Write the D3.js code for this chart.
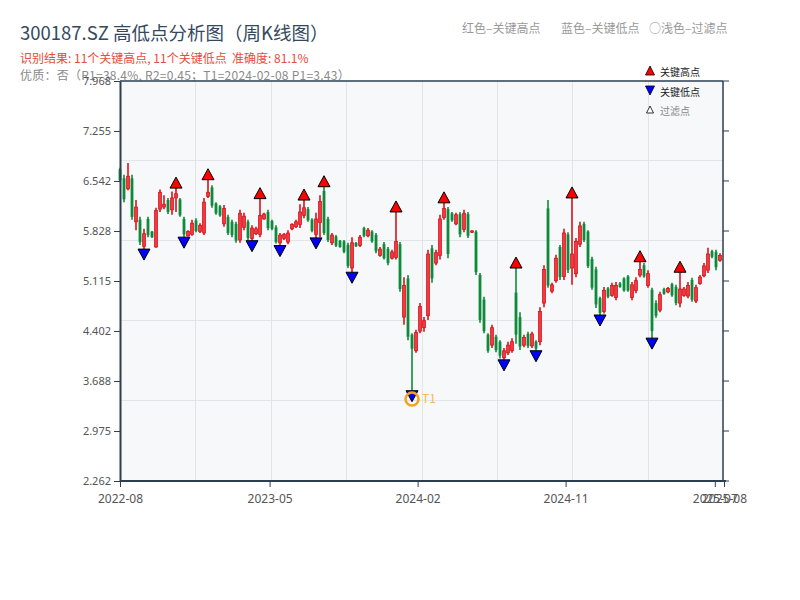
<!DOCTYPE html>
<html><head><meta charset="utf-8">
<script src="https://cdn.jsdelivr.net/npm/d3@7"></script>
<style>body{margin:0;background:#fff;} svg{display:block;font-family:"Noto Sans CJK SC","Noto Sans",sans-serif;} text{white-space:pre;}</style>
</head><body>
<svg id="c" width="800" height="600"></svg>
<script>
// ---- data (weekly candles, index 0..150) ----
const openV = [6.71,6.58,6.43,6.58,5.96,5.99,5.61,6.00,5.82,5.60,
6.14,6.17,6.27,6.13,6.30,6.28,6.00,5.76,5.78,5.98,
5.82,5.80,6.32,6.45,6.22,6.18,5.93,6.03,5.96,5.93,
5.70,5.88,5.96,5.72,5.79,5.78,6.00,6.10,5.97,5.88,
5.66,5.72,5.67,5.86,5.89,5.92,6.05,6.14,5.99,5.78,
5.95,6.40,6.00,5.66,5.75,5.69,5.68,5.63,5.30,5.66,
5.62,5.87,5.76,5.82,5.77,5.48,5.64,5.57,5.44,5.45,
5.64,4.60,5.15,4.35,4.12,4.40,4.45,4.62,5.58,5.37,
5.48,6.02,6.14,6.08,5.93,6.07,5.85,6.07,5.81,5.82,
5.20,4.85,4.35,4.20,4.32,4.25,4.02,4.09,4.12,4.95,
4.60,4.20,4.36,4.19,4.25,4.25,4.80,6.15,4.97,5.12,
5.60,5.18,5.78,5.30,5.22,5.64,5.93,5.82,5.43,5.28,
4.87,4.68,5.01,4.91,4.88,5.08,5.15,5.18,4.88,4.98,
5.20,5.34,5.05,4.99,4.80,4.70,5.00,4.96,5.07,5.03,
4.80,4.91,4.90,5.13,4.83,5.08,5.19,5.27,5.54,5.53,
5.41];
const highV = [6.73,6.63,6.80,6.63,6.27,6.03,5.86,6.03,5.83,6.16,
6.42,6.34,6.30,6.39,6.44,6.30,6.03,5.84,5.99,6.01,
5.94,6.30,6.56,6.48,6.24,6.20,6.20,6.06,5.99,5.96,
6.13,6.09,5.99,5.91,5.89,6.29,6.09,6.13,5.99,5.91,
5.80,5.80,5.84,5.94,5.99,6.21,6.27,6.17,6.01,6.09,
6.34,6.46,6.03,5.80,5.77,5.70,5.70,5.66,5.74,5.67,
5.77,5.89,5.87,5.84,5.80,5.60,5.67,5.60,5.56,6.10,
5.67,5.17,5.20,4.37,4.42,4.80,4.60,5.56,5.63,5.56,
6.06,6.23,6.17,6.10,6.09,6.10,6.13,6.10,5.84,5.84,
5.23,4.89,4.37,4.49,4.35,4.27,4.16,4.25,4.30,5.30,
4.67,4.35,4.39,4.39,4.27,4.74,5.34,6.27,5.09,5.49,
5.63,5.86,5.81,6.30,5.73,5.96,5.96,5.84,5.46,5.32,
4.89,5.03,5.03,5.09,5.10,5.10,5.17,5.20,5.10,5.17,
5.39,5.37,5.27,5.02,4.84,4.96,5.02,5.03,5.09,5.06,
5.24,5.03,5.10,5.16,5.06,5.20,5.37,5.59,5.56,5.56,
5.51];
const lowV = [6.53,6.24,6.41,5.99,5.84,5.63,5.57,5.74,5.73,5.59,
6.10,6.14,6.07,6.06,6.10,6.03,5.74,5.75,5.76,5.81,
5.80,5.77,6.30,6.16,6.06,6.03,5.89,5.77,5.74,5.66,
5.66,5.84,5.70,5.69,5.77,5.74,5.99,5.84,5.84,5.65,
5.62,5.70,5.64,5.84,5.87,5.87,6.01,5.96,5.81,5.73,
5.74,5.77,5.67,5.63,5.60,5.59,5.51,5.30,5.24,5.60,
5.60,5.74,5.74,5.66,5.51,5.46,5.42,5.34,5.42,5.42,
4.96,4.49,4.27,3.55,4.09,4.37,4.39,4.56,5.09,5.34,
5.42,5.99,5.44,5.96,5.91,5.74,5.81,5.73,5.80,5.20,
4.52,4.37,4.09,4.16,4.10,4.01,3.99,4.06,4.09,4.22,
4.13,4.17,4.16,4.16,4.12,4.20,4.74,5.02,4.94,5.09,
5.13,5.13,5.23,5.06,5.17,5.60,5.67,5.30,4.99,4.73,
4.63,4.65,4.87,4.89,4.84,5.02,4.96,4.96,4.84,4.94,
5.17,5.16,5.02,4.30,4.59,4.67,4.92,4.94,4.89,4.77,
4.74,4.89,4.87,4.82,4.80,5.06,5.17,5.23,5.44,5.27,
5.39];
const closeV = [6.55,6.28,6.61,6.03,6.17,5.67,5.79,5.77,5.74,6.12,
6.38,6.21,6.10,6.30,6.36,6.05,5.78,5.82,5.94,5.83,
5.91,6.24,6.38,6.19,6.08,6.05,6.15,5.80,5.77,5.69,
6.08,6.04,5.73,5.87,5.86,6.05,6.07,5.87,5.86,5.67,
5.77,5.78,5.80,5.92,5.96,6.10,6.16,5.98,5.83,6.00,
6.25,5.80,5.70,5.77,5.62,5.60,5.53,5.33,5.66,5.61,
5.74,5.76,5.84,5.68,5.54,5.57,5.44,5.37,5.53,5.68,
5.00,5.05,4.32,4.15,4.38,4.75,4.55,5.50,5.15,5.52,
6.00,6.15,5.50,5.98,6.06,5.78,6.08,5.76,5.83,5.24,
4.56,4.40,4.12,4.45,4.13,4.05,4.12,4.20,4.25,4.35,
4.18,4.31,4.19,4.36,4.15,4.68,5.28,5.05,5.06,5.44,
5.17,5.80,5.27,5.50,5.68,5.90,5.70,5.33,5.02,4.78,
4.66,4.98,4.89,5.05,5.05,5.03,4.98,4.98,5.06,5.12,
5.28,5.18,5.22,4.40,4.62,4.92,4.93,5.01,4.91,4.80,
5.00,5.00,5.05,4.85,5.02,5.17,5.33,5.50,5.46,5.31,
5.48];
const keyHighIdx = [14,22,35,46,51,69,81,99,113,130,140];
const keyLowIdx  = [6,16,33,40,49,58,73,96,104,120,133];
const t1Idx = 73, t1Price = 3.43;
const yTickVals = [2.262,2.975,3.688,4.402,5.115,5.828,6.542,7.255,7.968];
const xTickIdx = [0,37.4,74.4,111.4,148.7,151];
const xTickLabels = ["2022-08","2023-05","2024-02","2024-11","2025-07","2025-08"];

const titleText = "300187.SZ 高低点分析图（周K线图）";
const resultText = "识别结果: 11个关键高点, 11个关键低点  准确度: 81.1%";
const qualityText = "优质：否（R1=38.4%, R2=0.45；T1=2024-02-08 P1=3.43）";

// ---- layout ----
const svg = d3.select("#c");
const L = 120, R = 723, T = 81, B = 481;
const candles = openV.map((o,i)=>({i, o, h:highV[i], l:lowV[i], c:closeV[i]}));

const x = d3.scaleLinear().domain([0,150.75]).range([L,R]);
const y = d3.scaleLinear().domain([2.262,7.968]).range([B,T]);

// texts (behind plot)
svg.append("text").attr("x",20).attr("y",40).attr("font-size",18.5).attr("fill","#34495e").text(titleText);
svg.append("text").attr("x",20).attr("y",63).attr("font-size",12).attr("fill","#e74c3c").text(resultText);
svg.append("text").attr("x",20).attr("y",80).attr("font-size",12).attr("fill","#8a8a8a").attr("letter-spacing",0.25).text(qualityText);
const topLeg = svg.append("g").attr("font-size",12).attr("fill","#999");
topLeg.append("text").attr("x",462).attr("y",33).text("红色–关键高点");
topLeg.append("text").attr("x",561).attr("y",33).text("蓝色–关键低点");
topLeg.append("text").attr("x",649).attr("y",33).text("○浅色–过滤点");

// plot background + grid
svg.append("rect").attr("x",L).attr("y",T).attr("width",R-L).attr("height",B-T).attr("fill","#f6f8fa");
const grid = svg.append("g").attr("stroke","#e1e5ea").attr("stroke-width",1);
d3.range(1,8).forEach(k=>{
  const gx = Math.round(L + (R-L)*k/8)+0.5;
  grid.append("line").attr("x1",gx).attr("x2",gx).attr("y1",T).attr("y2",B);
});
d3.range(1,5).forEach(k=>{
  const gy = Math.round(T + (B-T)*k/5)-0.5;
  grid.append("line").attr("x1",L).attr("x2",R).attr("y1",gy).attr("y2",gy);
});

// candles
const up = "#d9121c", upFill = "#ee3a40", down = "#0f8a3a";
const cg = svg.append("g");
cg.selectAll("line.w").data(candles).join("line")
  .attr("x1",d=>x(d.i)).attr("x2",d=>x(d.i))
  .attr("y1",d=>y(d.h)).attr("y2",d=>y(d.l))
  .attr("stroke",d=>d.c>=d.o?up:down).attr("stroke-width",1.6);
cg.selectAll("rect.b").data(candles).join("rect")
  .attr("x",d=>x(d.i)-1.4).attr("width",2.8)
  .attr("y",d=>y(Math.max(d.o,d.c)))
  .attr("height",d=>Math.max(1,Math.abs(y(d.o)-y(d.c))))
  .attr("fill",d=>d.c>=d.o?upFill:down)
  .attr("stroke",d=>d.c>=d.o?up:"none").attr("stroke-width",0.8);

// key markers
const mg = svg.append("g");
keyHighIdx.forEach(i=>{
  const cx = x(i), by = y(highV[i]);
  mg.append("path").attr("d",`M${cx-6},${by} L${cx+6},${by} L${cx},${by-11} Z`)
    .attr("fill","#ff0000").attr("stroke","#000").attr("stroke-width",1);
});
keyLowIdx.forEach(i=>{
  const cx = x(i), ty = y(lowV[i]);
  mg.append("path").attr("d",`M${cx-6},${ty} L${cx+6},${ty} L${cx},${ty+11} Z`)
    .attr("fill","#0000ff").attr("stroke","#000").attr("stroke-width",1);
});
// T1
svg.append("circle").attr("cx",x(t1Idx)).attr("cy",y(t1Price)).attr("r",6.5)
  .attr("fill","none").attr("stroke","#f5a31a").attr("stroke-width",2.5);
svg.append("text").attr("x",x(t1Idx)+10).attr("y",y(t1Price)+4).attr("font-size",12)
  .attr("fill","#f7b955").text("T1");

// frame: top & right
svg.append("line").attr("x1",L).attr("x2",R).attr("y1",T).attr("y2",T).attr("stroke","#2c3e50").attr("stroke-width",1.5);
svg.append("line").attr("x1",R).attr("x2",R).attr("y1",T).attr("y2",B).attr("stroke","#2c3e50").attr("stroke-width",1.5);
yTickVals.forEach(v=>{
  svg.append("line").attr("x1",R).attr("x2",R+6).attr("y1",y(v)).attr("y2",y(v)).attr("stroke","#2c3e50").attr("stroke-width",1);
});

// axes
const yAxis = d3.axisLeft(y).tickValues(yTickVals).tickFormat(d3.format(".3f")).tickSize(6).tickSizeOuter(0);
const ya = svg.append("g").attr("transform",`translate(${L},0)`).call(yAxis);
ya.select(".domain").attr("stroke","#2c3e50").attr("stroke-width",2);
ya.selectAll(".tick line").attr("stroke","#2c3e50");
ya.selectAll("text").attr("font-size",11).attr("fill","#555").attr("font-family","'Noto Sans',sans-serif");

const xAxis = d3.axisBottom(x).tickValues(xTickIdx).tickFormat((d,k)=>xTickLabels[k]).tickSize(6).tickSizeOuter(0);
const xa = svg.append("g").attr("transform",`translate(0,${B})`).call(xAxis);
xa.select(".domain").attr("d",`M${L},0H${R+3}`).attr("stroke","#2c3e50").attr("stroke-width",2);
xa.selectAll(".tick line").attr("stroke","#2c3e50");
xa.selectAll("text").attr("font-size",12).attr("fill","#555").attr("dy","1.05em").attr("font-family","'Noto Sans',sans-serif");

// inner legend
const lg = svg.append("g").attr("font-size",10);
const lx = 650;
lg.append("path").attr("d",`M${lx-4.5},${75} L${lx+4.5},${75} L${lx},${66} Z`).attr("fill","#ff0000").attr("stroke","#000").attr("stroke-width",0.8);
lg.append("text").attr("x",660).attr("y",75.5).attr("fill","#222").text("关键高点");
lg.append("path").attr("d",`M${lx-4.5},${86} L${lx+4.5},${86} L${lx},${95} Z`).attr("fill","#0000ff").attr("stroke","#000").attr("stroke-width",0.8);
lg.append("text").attr("x",660).attr("y",95.5).attr("fill","#222").text("关键低点");
lg.append("path").attr("d",`M${lx-3.5},${113} L${lx+3.5},${113} L${lx},${106} Z`).attr("fill","#fff").attr("stroke","#000").attr("stroke-width",0.8);
lg.append("text").attr("x",660).attr("y",114.5).attr("fill","#888").text("过滤点");
</script>
</body></html>
